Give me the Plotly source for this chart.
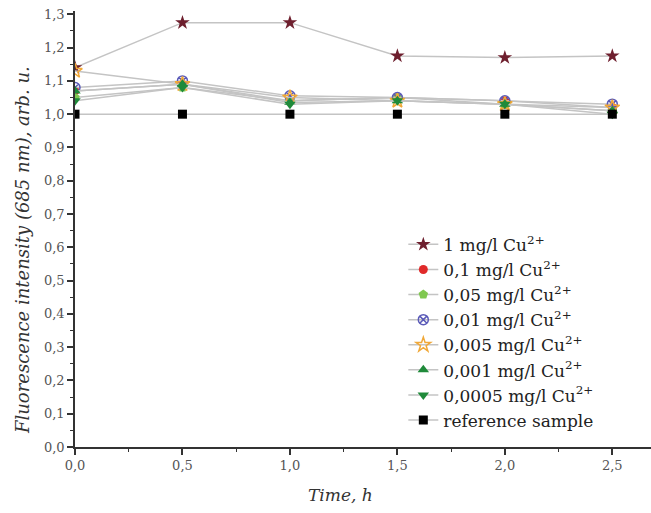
import plotly.graph_objects as go

time_h = [0.0, 0.5, 1.0, 1.5, 2.0, 2.5]

s_1 = [1.14, 1.275, 1.275, 1.175, 1.17, 1.175]
s_01 = [1.07, 1.09, 1.04, 1.05, 1.04, 1.02]
s_005 = [1.05, 1.08, 1.04, 1.05, 1.03, 1.01]
s_001 = [1.08, 1.10, 1.055, 1.05, 1.04, 1.03]
s_0005 = [1.13, 1.09, 1.05, 1.04, 1.03, 1.02]
s_0001 = [1.07, 1.09, 1.035, 1.04, 1.03, 1.01]
s_00005 = [1.04, 1.08, 1.03, 1.04, 1.03, 1.00]
s_ref = [1.0, 1.0, 1.0, 1.0, 1.0, 1.0]

names = ["1 mg/l Cu<sup>2+</sup>", "0,1 mg/l Cu<sup>2+</sup>", "0,05 mg/l Cu<sup>2+</sup>",
         "0,01 mg/l Cu<sup>2+</sup>", "0,005 mg/l Cu<sup>2+</sup>", "0,001 mg/l Cu<sup>2+</sup>",
         "0,0005 mg/l Cu<sup>2+</sup>", "reference sample"]
series = [s_1, s_01, s_005, s_001, s_0005, s_0001, s_00005, s_ref]
symbols = ["star", "circle", "pentagon", "circle-x-open", "star-open", "triangle-up", "triangle-down", "square"]
colors = ["#6e1f2e", "#e02a2a", "#80c850", "#5a5ab8", "#f0a838", "#1f8a3a", "#1f8a3a", "#000000"]
sizes = [11, 9, 10, 10, 11, 10, 10, 9]

fig = go.Figure()
for i, (nm, ys) in enumerate(zip(names, series)):
    fig.add_trace(go.Scatter(
        x=time_h, y=ys, name=nm, mode="lines+markers", legendgroup=str(i),
        line=dict(color="#c4c4c4", width=1.5),
        marker=dict(symbol=symbols[i], color=colors[i], size=sizes[i],
                    line=dict(color=colors[i], width=1.5 if "open" in symbols[i] else 0)),
    ))

font_fam = "DejaVu Serif, Liberation Serif, serif"
fig.update_layout(
    width=651, height=513,
    margin=dict(l=75, r=0, t=11, b=66),
    paper_bgcolor="white", plot_bgcolor="white",
    separators=", ",
    font=dict(family=font_fam, size=14, color="#333333"),
    showlegend=True,
    legend=dict(x=0.57, y=0.505, xanchor="left", yanchor="top",
                bgcolor="rgba(0,0,0,0)", tracegroupgap=0,
                font=dict(family=font_fam, size=17, color="#222222")),
    xaxis=dict(range=[0, 2.68], tickvals=[0, 0.5, 1.0, 1.5, 2.0, 2.5], tickformat=".1f",
               showgrid=False, zeroline=False, showline=True, linecolor="#333333", linewidth=1.5,
               ticks="outside", ticklen=6, tickwidth=1.5, tickcolor="#333333",
               minor=dict(dtick=0.25, ticks="outside", ticklen=3, tickcolor="#333333", tickwidth=1.2),
               tickfont=dict(size=13, color="#555555")),
    yaxis=dict(range=[0, 1.31], dtick=0.1, tick0=0, tickformat=".1f",
               showgrid=False, zeroline=False, showline=True, linecolor="#333333", linewidth=1.5,
               ticks="outside", ticklen=6, tickwidth=1.5, tickcolor="#333333",
               minor=dict(dtick=0.05, ticks="outside", ticklen=3, tickcolor="#333333", tickwidth=1.2),
               tickfont=dict(size=13, color="#555555")),
    annotations=[
        dict(text="<i>Time, h</i>", xref="paper", yref="paper", x=(340 - 75) / 576, y=-0.11,
             xanchor="center", yanchor="middle", showarrow=False,
             font=dict(family=font_fam, size=17, color="#333333")),
        dict(text="<i>Fluorescence intensity (685 nm), arb. u.</i>", xref="paper", yref="paper",
             x=(22 - 75) / 576, y=(447 - 250) / 436, textangle=-90,
             xanchor="center", yanchor="middle", showarrow=False,
             font=dict(family=font_fam, size=18, color="#333333")),
    ],
)

fig.write_html("out.html")
